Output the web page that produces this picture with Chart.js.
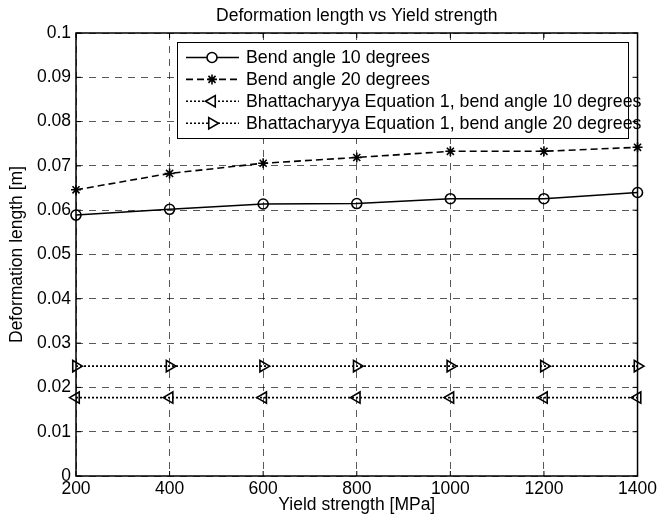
<!DOCTYPE html>
<html>
<head>
<meta charset="utf-8">
<script src="https://cdn.jsdelivr.net/npm/chart.js@4/dist/chart.umd.min.js"></script>
<style>
  html, body { margin: 0; padding: 0; background: #fff; }
  #wrap { width: 660px; height: 526px; }
</style>
</head>
<body>
<div id="wrap"><canvas id="chart" width="660" height="526"></canvas></div>
<script>
// values
const yieldStrength = [200, 400, 600, 800, 1000, 1200, 1400];
const bend10 = [0.0589, 0.0602, 0.0614, 0.0615, 0.0626, 0.0626, 0.0640];
const bend20 = [0.0646, 0.0683, 0.0706, 0.0719, 0.0733, 0.0733, 0.0742];
const bhatt10 = [0.0177, 0.0177, 0.0177, 0.0177, 0.0177, 0.0177, 0.0177];
const bhatt20 = [0.0248, 0.0248, 0.0248, 0.0248, 0.0248, 0.0248, 0.0248];
const seriesNames = [
  'Bend angle 10 degrees',
  'Bend angle 20 degrees',
  'Bhattacharyya Equation 1, bend angle 10 degrees',
  'Bhattacharyya Equation 1, bend angle 20 degrees'
];

const FONT = "'Liberation Sans', Arial, Helvetica, sans-serif";
const FS = 17.5;
const pts = (ys) => yieldStrength.map((x, i) => ({ x: x, y: ys[i] }));

function line(label, ys, dash, style, radius, rotation) {
  return {
    label: label,
    data: pts(ys),
    borderColor: '#000',
    borderWidth: 1.6,
    borderDash: dash,
    backgroundColor: 'rgba(0,0,0,0)',
    pointStyle: style,
    pointRadius: radius,
    pointRotation: rotation,
    pointBorderColor: '#000',
    pointBackgroundColor: 'rgba(0,0,0,0)',
    pointBorderWidth: 1.6,
    tension: 0,
    clip: false
  };
}

// title, box with inside ticks, MATLAB-like legend
const matlabBits = {
  id: 'matlabBits',
  afterDraw(chart) {
    const ctx = chart.ctx;
    const a = chart.chartArea;
    const xs = chart.scales.x, ys = chart.scales.y;
    ctx.save();

    ctx.fillStyle = '#000';
    ctx.font = FS + 'px ' + FONT;
    ctx.textAlign = 'center';
    ctx.textBaseline = 'middle';
    ctx.fillText('Deformation length vs Yield strength', (a.left + a.right) / 2, 16);

    ctx.strokeStyle = '#000';
    ctx.lineWidth = 1.5;
    ctx.setLineDash([]);
    ctx.strokeRect(a.left, a.top, a.right - a.left, a.bottom - a.top);
    ctx.lineWidth = 1;
    ctx.beginPath();
    xs.ticks.forEach(t => {
      const px = xs.getPixelForValue(t.value);
      ctx.moveTo(px, a.bottom); ctx.lineTo(px, a.bottom - 5);
      ctx.moveTo(px, a.top); ctx.lineTo(px, a.top + 5);
    });
    ys.ticks.forEach(t => {
      const py = ys.getPixelForValue(t.value);
      ctx.moveTo(a.left, py); ctx.lineTo(a.left + 5, py);
      ctx.moveTo(a.right, py); ctx.lineTo(a.right - 5, py);
    });
    ctx.stroke();

    // legend
    const lx = 177, ly = 42, lw = 451, lh = 96;
    ctx.fillStyle = '#fff';
    ctx.fillRect(lx, ly, lw, lh);
    ctx.strokeStyle = '#000';
    ctx.lineWidth = 1;
    ctx.strokeRect(lx + 0.5, ly + 0.5, lw, lh);
    chart.data.datasets.forEach((ds, i) => {
      const yy = 57.5 + i * 21.9;
      ctx.strokeStyle = '#000';
      ctx.lineWidth = ds.borderWidth;
      ctx.setLineDash(ds.borderDash || []);
      ctx.beginPath();
      ctx.moveTo(186, yy);
      ctx.lineTo(239, yy);
      ctx.stroke();
      ctx.setLineDash([]);
      ctx.fillStyle = '#fff';
      ctx.lineWidth = ds.pointBorderWidth;
      Chart.helpers.drawPoint(ctx, {
        pointStyle: ds.pointStyle,
        rotation: ds.pointRotation,
        radius: ds.pointRadius,
        borderWidth: ds.pointBorderWidth
      }, 212, yy);
      ctx.fillStyle = '#000';
      ctx.font = '17.8px ' + FONT;
      ctx.textAlign = 'left';
      ctx.textBaseline = 'middle';
      ctx.fillText(ds.label, 246, yy + 1);
    });
    ctx.restore();
  }
};

new Chart(document.getElementById('chart'), {
  type: 'line',
  data: {
    datasets: [
      line(seriesNames[0], bend10, [], 'circle', 5, 0),
      line(seriesNames[1], bend20, [7, 4], 'star', 5, 0),
      line(seriesNames[2], bhatt10, [2, 2], 'triangle', 6.5, 270),
      line(seriesNames[3], bhatt20, [2, 2], 'triangle', 6.5, 90)
    ]
  },
  options: {
    responsive: false,
    animation: false,
    layout: { padding: { top: 33, right: 20, left: 0, bottom: 0 } },
    plugins: {
      legend: { display: false },
      tooltip: { enabled: false },
      title: { display: false }
    },
    scales: {
      x: {
        type: 'linear',
        min: 200,
        max: 1400,
        afterFit(s) { s.height = 50; },
        ticks: {
          stepSize: 200,
          padding: 3,
          color: '#000',
          font: { family: FONT, size: FS },
          maxRotation: 0,
          callback: (v) => String(v)
        },
        grid: { color: 'rgba(0,0,0,0.65)', drawTicks: false, lineWidth: 1 },
        border: { display: false, dash: [7, 6] },
        title: {
          display: true,
          text: 'Yield strength [MPa]',
          color: '#000',
          font: { family: FONT, size: FS },
          padding: { top: 0, bottom: 10 }
        }
      },
      y: {
        min: 0,
        max: 0.1,
        afterFit(s) { s.width = 76; },
        ticks: {
          stepSize: 0.01,
          padding: 5,
          color: '#000',
          font: { family: FONT, size: FS },
          callback: (v) => String(Number(v.toFixed(2)))
        },
        grid: { color: 'rgba(0,0,0,0.65)', drawTicks: false, lineWidth: 1 },
        border: { display: false, dash: [7, 6] },
        title: {
          display: true,
          text: 'Deformation length [m]',
          color: '#000',
          font: { family: FONT, size: FS },
          padding: { top: 7, bottom: 0 }
        }
      }
    }
  },
  plugins: [matlabBits]
});
</script>
</body>
</html>
